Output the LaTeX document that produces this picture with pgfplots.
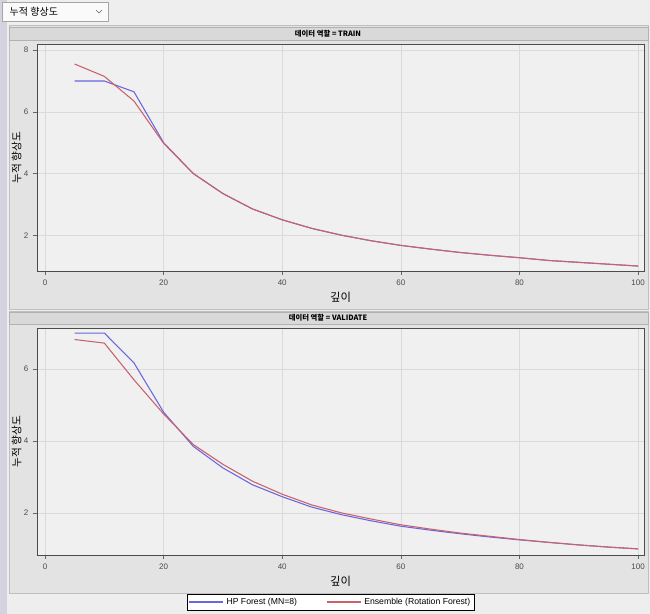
\documentclass[border=0pt]{standalone}
\usepackage{fontspec}
\setmainfont{Liberation Sans}
\newfontfamily\kr{Noto Sans CJK KR}
\usepackage{pgfplots}
\pgfplotsset{compat=1.18}

\definecolor{panelbg}{HTML}{E3E3E3}
\definecolor{plotbg}{HTML}{F0F0F0}
\definecolor{gridc}{HTML}{DADADA}
\definecolor{hpblue}{HTML}{6A66DE}
\definecolor{ensred}{HTML}{C8626C}

\pgfplotstableread{
x hp ens
5 7.00 7.55
10 7.00 7.15
15 6.65 6.35
20 5.00 4.98
25 4.00 4.00
30 3.35 3.35
35 2.85 2.85
40 2.50 2.50
45 2.22 2.22
50 2.00 2.00
55 1.82 1.82
60 1.67 1.67
65 1.55 1.55
70 1.44 1.44
75 1.35 1.35
80 1.27 1.27
85 1.18 1.18
90 1.12 1.12
95 1.06 1.06
100 1.00 1.00
}\train

\pgfplotstableread{
x hp ens
5 7.00 6.82
10 7.00 6.72
15 6.17 5.70
20 4.80 4.75
25 3.85 3.90
30 3.25 3.35
35 2.78 2.88
40 2.45 2.52
45 2.16 2.22
50 1.95 2.00
55 1.78 1.83
60 1.63 1.67
65 1.52 1.55
70 1.42 1.44
75 1.33 1.35
80 1.25 1.26
85 1.18 1.18
90 1.11 1.11
95 1.05 1.05
100 1.00 1.00
}\valid

\pgfplotsset{
  panel/.style={
    width=455.25pt, height=170.25pt, scale only axis,
    axis background/.style={fill=plotbg},
    axis line style={draw=black!70, line width=0.6pt},
    xmin=-1.35, xmax=101,
    xtick={0,20,...,100},
    xtick pos=lower, ytick pos=left,
    grid=major, major grid style={draw=gridc, line width=0.4pt},
    tick align=outside, tick style={black!60, line width=0.4pt},
    major tick length=3pt,
    ticklabel style={font=\fontsize{6}{7}\selectfont, text=black!70},
    /pgf/number format/assume math mode=true,
    xlabel={\kr 깊이},
    xlabel style={font=\fontsize{8.5}{10}\selectfont, yshift=2pt},
    ylabel={\kr 누적 향상도},
    ylabel style={font=\fontsize{8}{10}\selectfont, yshift=-5pt},
    every axis plot/.append style={line width=0.8pt},
  }
}

\begin{document}
\begin{tikzpicture}[x=0.75pt, y=0.75pt]
\useasboundingbox (0,0) rectangle (650,614);
\fill[panelbg!60] (0,0) rectangle (650,614);
\fill[blue!15!gray!30] (0,0) rectangle (7,614);
% dropdown
\fill[white!96!gray] (2,612) rectangle (108,593);
\draw[black!35] (2,612) rectangle (108,593);
\node[anchor=west, font=\kr\fontsize{7.5}{9}\selectfont] at (5,602.5) {누적 향상도};
\draw[black!60, line width=0.5pt] (96,604) -- (99,601) -- (102,604);
% panels
\fill[panelbg] (9,589) rectangle (648,305);
\draw[black!25] (9,589) rectangle (648,305);
\fill[panelbg!90!gray] (9,587) rectangle (648,574);
\draw[black!30] (9,587) rectangle (648,574);
\node[font=\kr\bfseries\fontsize{5.5}{6}\selectfont] at (328,580.5) {데이터 역할 = TRAIN};
\fill[panelbg] (9,303) rectangle (648,21);
\draw[black!25] (9,303) rectangle (648,21);
\fill[panelbg!90!gray] (9,302) rectangle (648,290);
\draw[black!30] (9,302) rectangle (648,290);
\node[font=\kr\bfseries\fontsize{5.5}{6}\selectfont] at (328,296) {데이터 역할 = VALIDATE};

\begin{axis}[panel, at={(27.75pt,257.25pt)}, anchor=south west,
  ymin=0.84, ymax=8.2, ytick={2,4,6,8}]
\addplot[hpblue] table[x=x, y=hp] {\train};
\addplot[ensred] table[x=x, y=ens] {\train};
\end{axis}

\begin{axis}[panel, at={(27.75pt,44.25pt)}, anchor=south west,
  ymin=0.83, ymax=7.14, ytick={2,4,6},
  legend columns=2,
  legend style={at={(0.484,-0.207)}, anchor=center, draw=black, fill=white,
    font=\fontsize{6.5}{7.5}\selectfont, inner sep=1pt,
    /tikz/every even column/.append style={column sep=20pt}},
  legend image code/.code={\draw[#1] (0cm,0cm) -- (0.9cm,0cm);}]
\addplot[hpblue] table[x=x, y=hp] {\valid};
\addlegendentry{HP Forest (MN=8)}
\addplot[ensred] table[x=x, y=ens] {\valid};
\addlegendentry{Ensemble (Rotation Forest)}
\end{axis}
\end{tikzpicture}
\end{document}
